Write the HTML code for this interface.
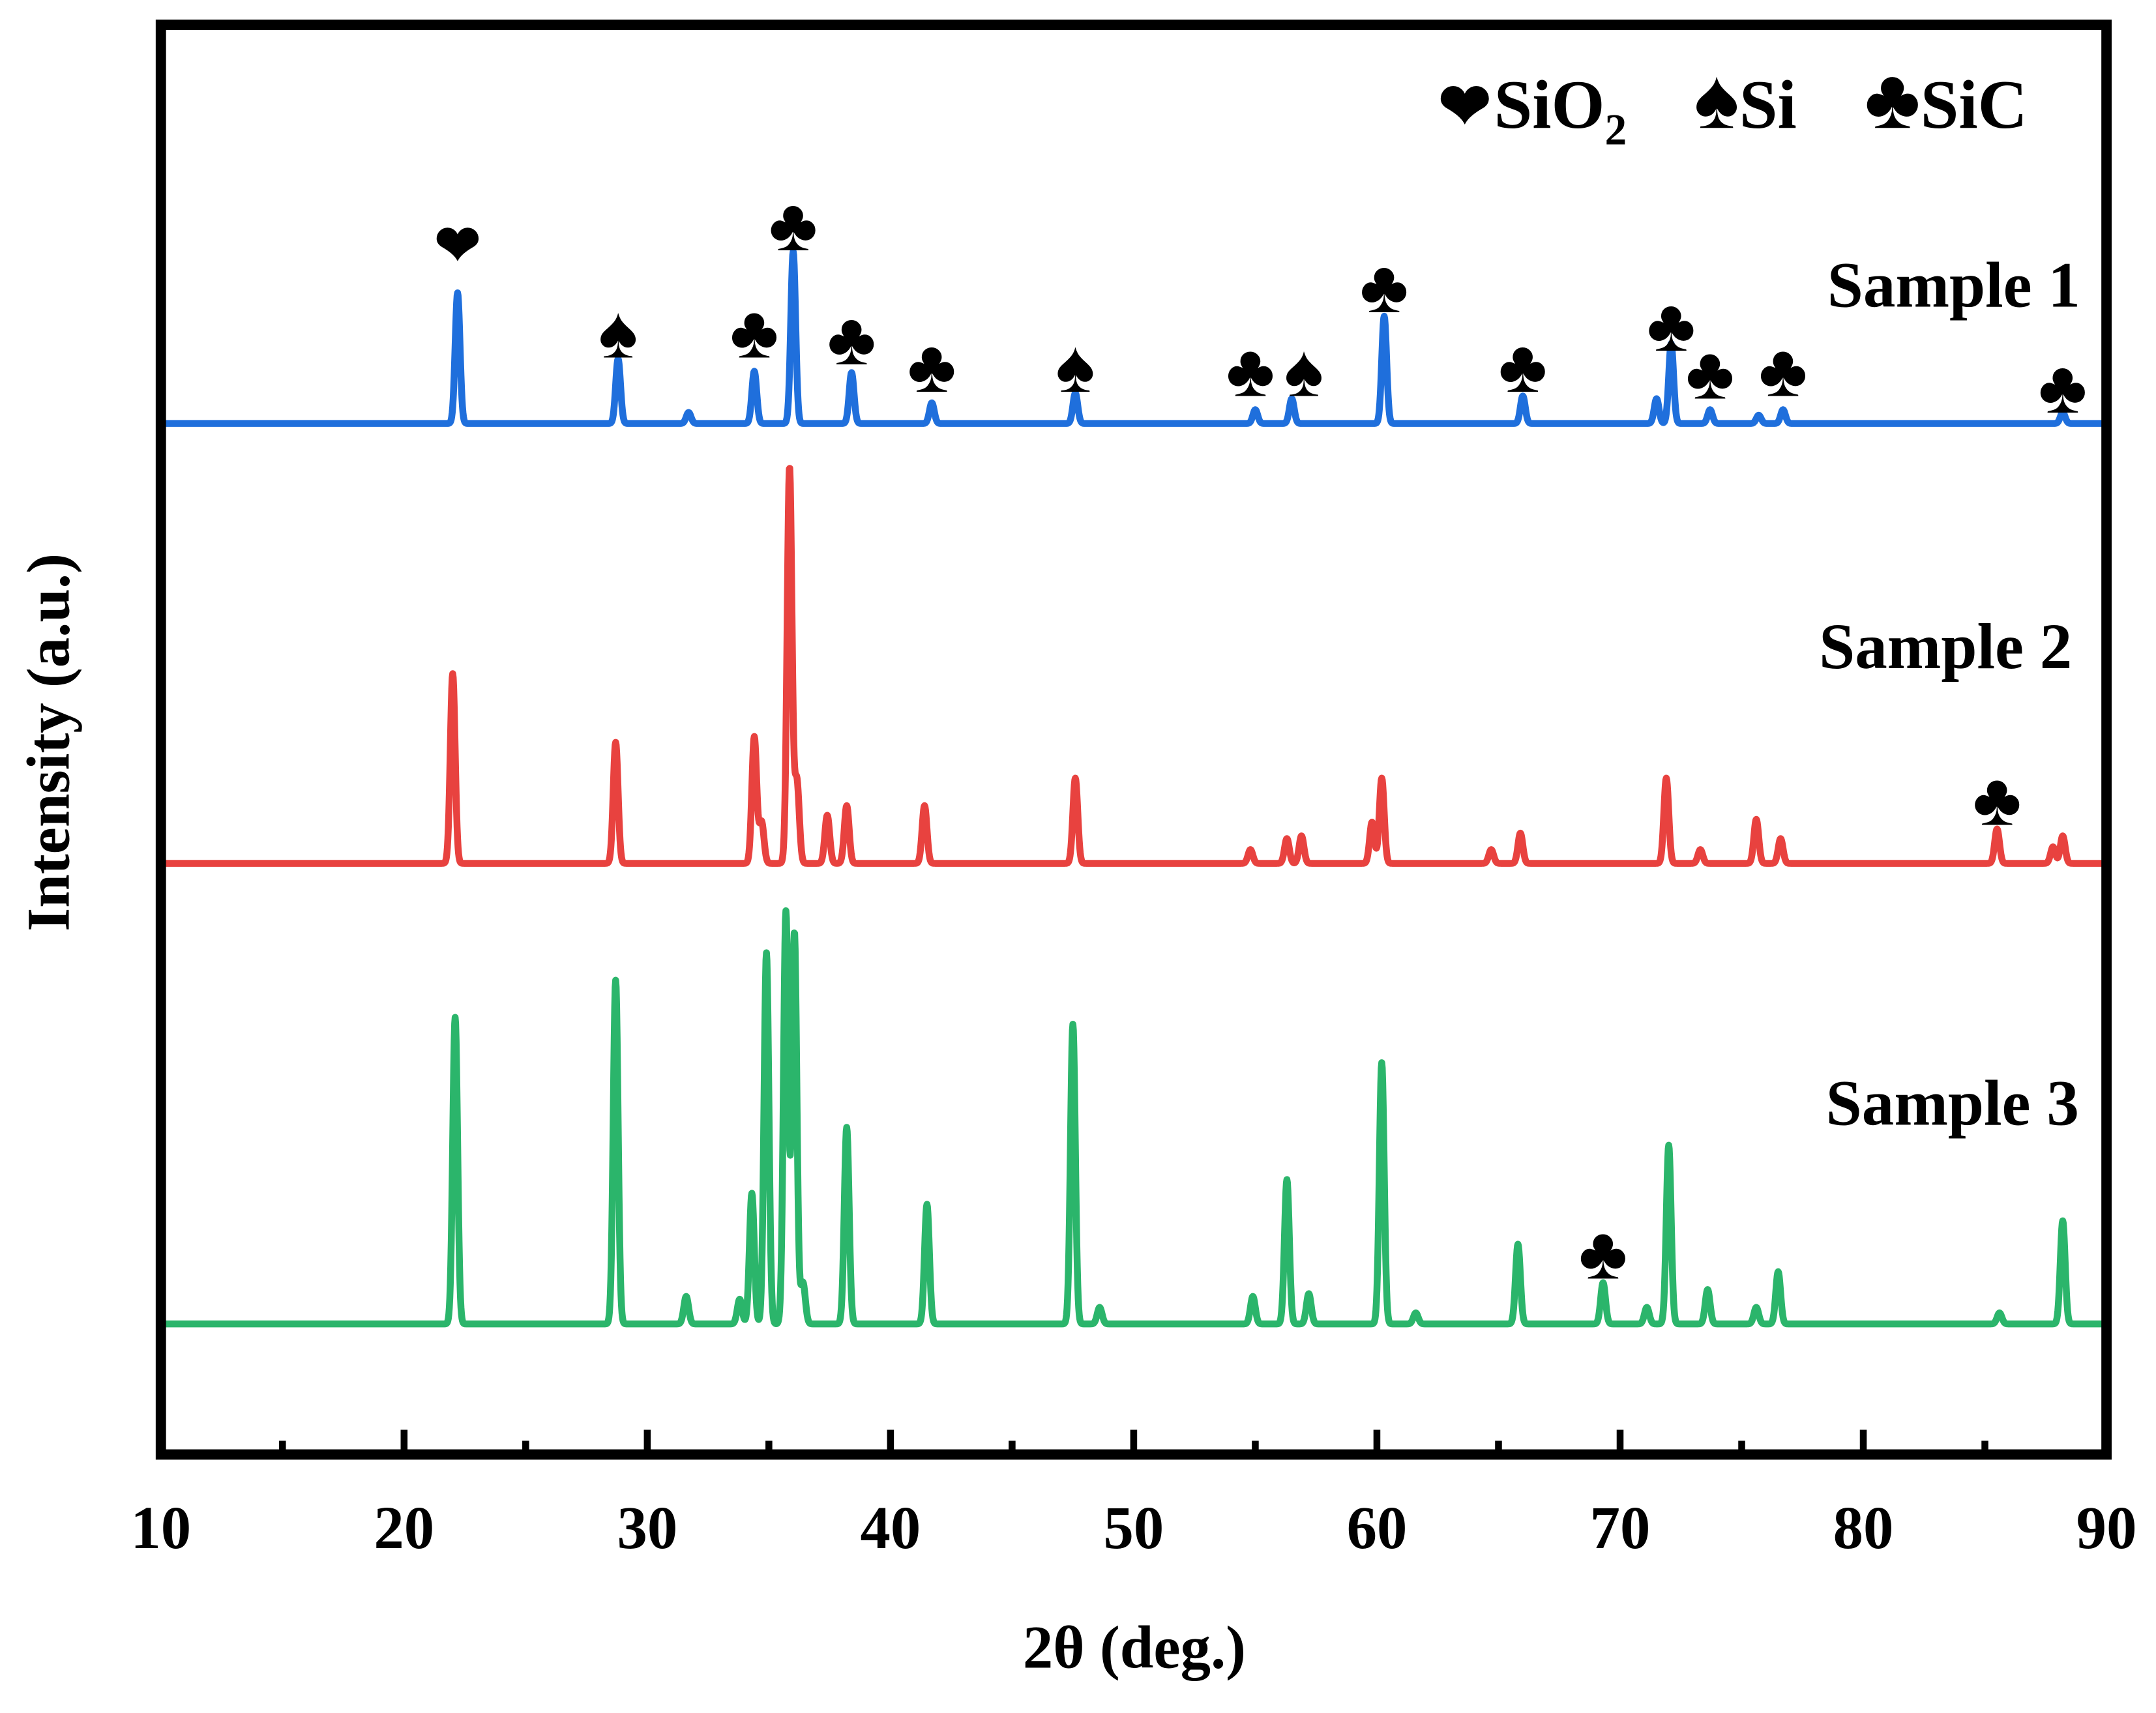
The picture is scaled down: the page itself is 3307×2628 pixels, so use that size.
<!DOCTYPE html>
<html><head><meta charset="utf-8"><style>
html,body{margin:0;padding:0;background:#fff;}
svg{display:block;}
text{font-family:"Liberation Serif",serif;font-weight:bold;fill:#000;}
</style></head><body>
<svg id="chart" width="3307" height="2628" viewBox="0 0 1568 1246" xmlns="http://www.w3.org/2000/svg">
<g id="series"></g>
<g id="marks"></g>
<rect x="117" y="18" width="1415" height="1040" fill="none" stroke="#000" stroke-width="7.5"/>
<g id="axis"></g>
<text x="825" y="1213" font-size="44" text-anchor="middle">2θ (deg.)</text>
<text transform="translate(50,540) rotate(-90)" font-size="44" text-anchor="middle">Intensity (a.u.)</text>
<g>
<text x="1046" y="93" font-size="50"><tspan font-size="46">❤</tspan><tspan dx="2">SiO</tspan><tspan font-size="32" dy="12">2</tspan></text>
<text x="1232" y="93" font-size="50"><tspan font-size="62">♠</tspan><tspan>Si</tspan></text>
<text x="1356" y="93" font-size="50"><tspan font-size="62">♣</tspan><tspan>SiC</tspan></text>
</g>
<text x="1513" y="223" font-size="47" text-anchor="end">Sample 1</text>
<text x="1507" y="486" font-size="47" text-anchor="end">Sample 2</text>
<text x="1512" y="818" font-size="47" text-anchor="end">Sample 3</text>
</svg>
<script>
const xTicks=[10,20,30,40,50,60,70,80,90];
const s1Pos=[22.2,28.8,31.7,34.4,36.0,38.4,41.7,47.6,55.0,56.5,60.3,66.0,71.5,72.1,73.7,75.7,76.7,88.2];
const s1Int=[95,47,8,38,125,37,15,22,10,18,78,20,18,58,10,6,10,8];
const s2Pos=[22.0,28.7,34.4,34.7,35.85,36.15,37.4,38.2,41.4,47.6,54.8,56.3,56.9,59.8,60.2,64.7,65.9,71.9,73.3,75.6,76.6,85.5,87.8,88.2];
const s2Int=[138,88,92,30,288,60,35,42,42,62,10,18,20,30,62,10,22,62,10,32,18,25,12,20];
const s3Pos=[22.1,28.7,31.6,33.8,34.3,34.9,35.7,36.05,36.4,38.2,41.5,47.5,48.6,54.9,56.3,57.2,60.2,61.6,65.8,69.3,71.1,72.0,73.6,75.6,76.5,85.6,88.2];
const s3Int=[223,250,20,18,95,270,300,285,30,143,87,218,12,20,105,22,190,8,58,30,12,130,25,12,38,8,75];
const baselines=[308,628,963];
const colors=['#1f6fdc','#e8423f','#2bb56b'];
const markSym=['❤','♠','♣','♣','♣','♣','♠','♣','♠','♣','♣','♣','♣','♣','♣','♣','♣'];
const markX=[22.2,28.8,34.4,36.0,38.4,41.7,47.6,54.8,57.0,60.3,66.0,72.1,73.7,76.7,88.2,85.5,69.3];
const markY=[178,240,240,162,245,265,265,268,268,207,265,235,270,268,280,580,910];
const NS='http://www.w3.org/2000/svg';
const X0=117,X1=1532;
function xs(v){return X0+(v-10)/80*(X1-X0);}
const series=document.getElementById('series');
[[s1Pos,s1Int],[s2Pos,s2Int],[s3Pos,s3Int]].forEach((s,k)=>{
  let d='';
  for(let t=10;t<=90.0001;t+=0.02){
    let y=0;
    for(let i=0;i<s[0].length;i++){const w=0.14;const dx=(t-s[0][i])/w;y+=s[1][i]*Math.exp(-dx*dx);}
    d+=(d?'L':'M')+xs(t).toFixed(2)+','+(baselines[k]-y).toFixed(2);
  }
  const p=document.createElementNS(NS,'path');
  p.setAttribute('d',d);p.setAttribute('fill','none');p.setAttribute('stroke',colors[k]);
  p.setAttribute('stroke-width','5');p.setAttribute('stroke-linejoin','round');
  
  
  series.appendChild(p);
});
const marks=document.getElementById('marks');
markX.forEach((v,i)=>{
  const t=document.createElementNS(NS,'text');
  const heart=markSym[i]==='❤';
  t.setAttribute('x',xs(v));t.setAttribute('y',markY[i]+(heart?14:20));t.setAttribute('font-size',heart?'40':'54');
  t.setAttribute('text-anchor','middle');t.textContent=markSym[i];
  
  
  marks.appendChild(t);
});
const axis=document.getElementById('axis');
for(let v=15;v<90;v+=5){
  const l=document.createElementNS(NS,'line');
  const major=v%10===0;
  l.setAttribute('x1',xs(v));l.setAttribute('x2',xs(v));
  l.setAttribute('y1',1056);l.setAttribute('y2',major?1040:1048);
  l.setAttribute('stroke','#000');l.setAttribute('stroke-width','5');
  
  
  axis.appendChild(l);
}
xTicks.forEach(v=>{
  const t=document.createElementNS(NS,'text');
  t.setAttribute('x',xs(v));t.setAttribute('y',1126);t.setAttribute('font-size','44');
  t.setAttribute('text-anchor','middle');t.textContent=v;
  
  
  axis.appendChild(t);
});
</script>
</body></html>
